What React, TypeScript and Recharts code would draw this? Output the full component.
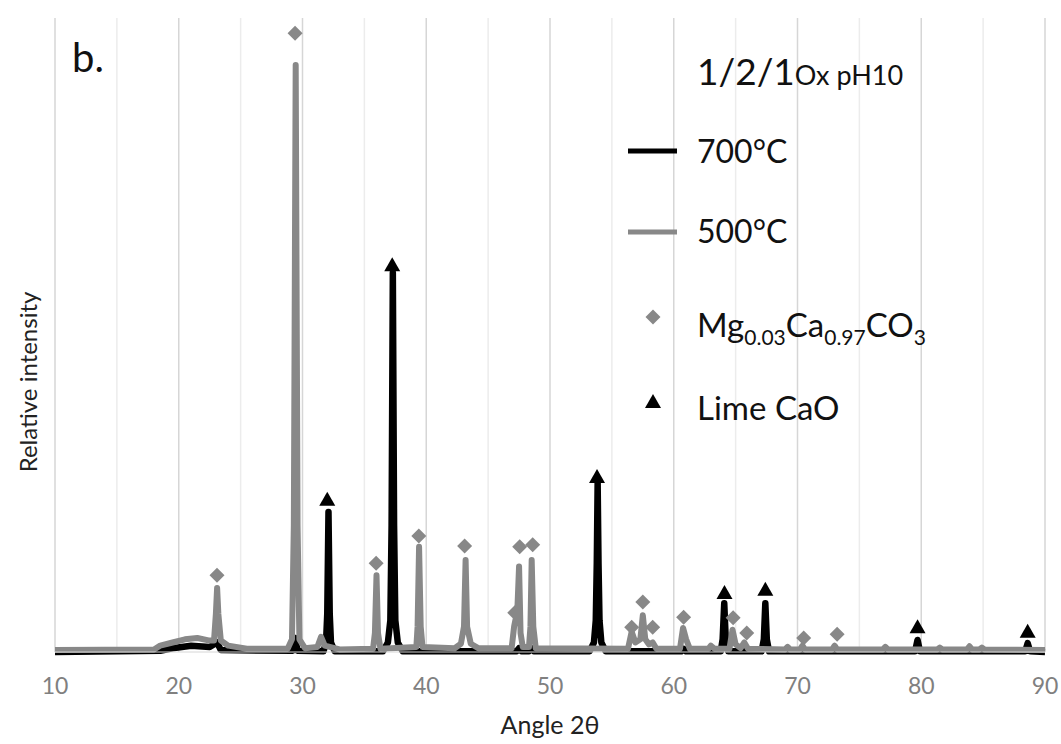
import {
  ComposedChart,
  Line,
  Scatter,
  XAxis,
  YAxis,
  CartesianGrid,
  ReferenceLine,
} from 'recharts';

const FONT = 'Lato, "Open Sans", sans-serif';
const GREY = '#888888';
const BLACK = '#000000';

// [angle 2θ, relative intensity]
const pattern500: [number, number][] = [
  [10, 0.3], [18, 0.4], [18.5, 1.0], [19.5, 1.5], [20.5, 2.0], [21.5, 2.2], [22.5, 1.8],
  [22.85, 1.8], [23.0, 6], [23.1, 10.1], [23.2, 6], [23.4, 1.8], [24, 1.0], [25.5, 0.5],
  [28.8, 0.5], [29.15, 2], [29.3, 20], [29.45, 92.6], [29.6, 20], [29.75, 2], [30.2, 0.6],
  [31.2, 0.8], [31.5, 2.4], [31.8, 1.0], [33, 0.4], [35.7, 0.5], [35.85, 3], [35.98, 12.1],
  [36.1, 3], [36.3, 0.5], [39.2, 0.8], [39.3, 4], [39.42, 16.6], [39.55, 4], [39.7, 0.8],
  [42.3, 0.6], [42.8, 1.3], [43.05, 4], [43.18, 14.5], [43.3, 4], [43.6, 1.3], [44.2, 0.6],
  [46.9, 0.6], [47.1, 4], [47.2, 5], [47.35, 6], [47.5, 13.5], [47.62, 3], [47.8, 0.8],
  [48.3, 0.8], [48.42, 4], [48.52, 14.5], [48.65, 4], [48.85, 0.6], [56.3, 0.5], [56.6, 3.2],
  [56.9, 1.5], [57.3, 2], [57.5, 5.8], [57.7, 2], [58.0, 1.2], [58.3, 1.5], [58.6, 0.5],
  [60.5, 0.5], [60.75, 3.8], [61.0, 2], [61.3, 0.5], [62.8, 0.5], [63.0, 1.0], [63.3, 0.5],
  [64.5, 0.5], [64.75, 3.5], [65.0, 1.2], [65.4, 0.6], [65.7, 1.5], [66.0, 0.5], [69.0, 0.4],
  [69.2, 0.8], [69.4, 0.4], [70.2, 0.4], [70.4, 1.0], [70.6, 0.4], [72.8, 0.4], [73.0, 1.0],
  [73.2, 0.4], [76.9, 0.4], [77.1, 0.8], [77.3, 0.4], [81.3, 0.4], [81.5, 0.7], [81.7, 0.4],
  [83.7, 0.4], [83.9, 0.9], [84.1, 0.4], [84.7, 0.4], [84.9, 0.7], [85.1, 0.4], [90, 0.3],
];

const pattern700: [number, number][] = [
  [10, 0], [18.5, 0.2], [19.5, 0.6], [21, 1.0], [22.5, 0.8], [23.1, 1.5], [23.4, 0.3],
  [29.2, 0.2], [29.4, 2.2], [29.6, 0.2], [31.7, 0.1], [31.9, 1.5], [32.0, 6], [32.1, 22.1],
  [32.2, 6], [32.3, 1.5], [32.6, 0.1], [36.5, 0.1], [36.9, 1.5], [37.1, 5], [37.2, 20],
  [37.3, 59.8], [37.4, 20], [37.5, 5], [37.7, 1.5], [38.1, 0.1], [47.3, 0.1], [47.5, 0.6],
  [47.7, 0.1], [48.3, 0.1], [48.5, 0.6], [48.7, 0.1], [53.2, 0.1], [53.55, 1.5], [53.7, 5],
  [53.78, 14], [53.85, 26.7], [53.92, 14], [54.0, 5], [54.15, 1.5], [54.5, 0.1], [60.6, 0.1],
  [60.8, 0.5], [61.0, 0.1], [63.8, 0.1], [63.95, 2], [64.08, 7.7], [64.2, 2], [64.4, 0.1],
  [67.1, 0.1], [67.28, 2], [67.4, 7.7], [67.52, 2], [67.7, 0.1], [79.5, 0.1], [79.7, 1.9],
  [79.9, 0.1], [88.4, 0.1], [88.6, 1.4], [88.8, 0.1], [90, 0],
];

// phase markers [angle, height]
const calciteMarks: [number, number][] = [
  [23.09, 12.1], [29.4, 97.6], [35.95, 14.0], [39.4, 18.3], [43.1, 16.7], [47.15, 6.2],
  [47.55, 16.6], [48.6, 16.9], [56.6, 3.9], [57.5, 7.9], [58.3, 3.9], [60.8, 5.5],
  [64.8, 5.4], [65.9, 3.0], [70.5, 2.2], [73.2, 2.8],
];

const limeMarks: [number, number][] = [
  [32.0, 24.0], [37.25, 61.0], [53.8, 27.6], [64.1, 9.3], [67.4, 9.8], [79.7, 3.9], [88.6, 3.2],
];

const majorTicks = [10, 20, 30, 40, 50, 60, 70, 80, 90];
const minorTicks = [15, 25, 35, 45, 55, 65, 75, 85];

const toPoints = (arr: [number, number][]) => arr.map(([x, y]) => ({ x, y }));

const Diamond = ({ cx, cy }: any) => (
  <polygon
    points={`${cx},${cy - 7.5} ${cx + 7.5},${cy} ${cx},${cy + 7.5} ${cx - 7.5},${cy}`}
    fill={GREY}
  />
);

const Triangle = ({ cx, cy }: any) => (
  <polygon points={`${cx},${cy - 8} ${cx + 8},${cy + 6} ${cx - 8},${cy + 6}`} fill={BLACK} />
);

function Overlay() {
  return (
    <svg
      width={1061}
      height={744}
      style={{ position: 'absolute', left: 0, top: 0, pointerEvents: 'none' }}
      fontFamily={FONT}
    >
      <text x={72} y={72} fontSize={40} fill="#111">b.</text>

      <text x={697} y={85} fill="#111">
        <tspan fontSize={37}>1/2/1</tspan>
        <tspan fontSize={27}>Ox pH10</tspan>
      </text>

      <line x1={628} x2={677} y1={151} y2={151} stroke={BLACK} strokeWidth={5} />
      <text x={697} y={163} fontSize={32} fill="#111">700°C</text>

      <line x1={628} x2={677} y1={232} y2={232} stroke={GREY} strokeWidth={5} />
      <text x={697} y={243} fontSize={32} fill="#111">500°C</text>

      <Diamond cx={653} cy={317} />
      <text x={697} y={337} fontSize={33} fill="#111">
        Mg<tspan fontSize={21} dy={8}>0.03</tspan>
        <tspan dy={-8}>Ca</tspan>
        <tspan fontSize={21} dy={8}>0.97</tspan>
        <tspan dy={-8}>CO</tspan>
        <tspan fontSize={21} dy={8}>3</tspan>
      </text>

      <Triangle cx={653} cy={402} />
      <text x={697} y={420} fontSize={33} fill="#111">Lime CaO</text>

      <text
        x={37}
        y={382}
        fontSize={24}
        fill="#222"
        textAnchor="middle"
        transform="rotate(-90, 37, 382)"
      >
        Relative intensity
      </text>
      <text x={550} y={734} fontSize={25} fill="#222" textAnchor="middle">
        Angle 2θ
      </text>
    </svg>
  );
}

export default function App() {
  return (
    <div style={{ position: 'absolute', left: 0, top: 0, width: 1061, height: 744, background: '#fff' }}>
      <ComposedChart width={1061} height={744} margin={{ top: 18, right: 16, left: 55, bottom: 32 }}>
        <CartesianGrid horizontal={false} stroke="#d6d6d6" strokeWidth={1.5} />
        {minorTicks.map((t) => (
          <ReferenceLine key={t} x={t} stroke="#ececec" strokeWidth={1.5} />
        ))}
        <XAxis
          dataKey="x"
          type="number"
          domain={[10, 90]}
          ticks={majorTicks}
          height={60}
          tickLine={false}
          tickMargin={20}
          axisLine={{ stroke: '#d6d6d6' }}
          tick={{ fontSize: 23, fill: '#808080', fontFamily: FONT }}
        />
        <YAxis hide type="number" domain={[0, 100]} />
        <Line
          data={toPoints(pattern700)}
          dataKey="y"
          type="linear"
          stroke={BLACK}
          strokeWidth={6.5}
          strokeLinejoin="round"
          dot={false}
          isAnimationActive={false}
        />
        <Line
          data={toPoints(pattern500)}
          dataKey="y"
          type="linear"
          stroke={GREY}
          strokeWidth={6}
          strokeLinejoin="round"
          dot={false}
          isAnimationActive={false}
        />
        <Scatter data={toPoints(calciteMarks)} dataKey="y" shape={Diamond} isAnimationActive={false} />
        <Scatter data={toPoints(limeMarks)} dataKey="y" shape={Triangle} isAnimationActive={false} />
      </ComposedChart>
      <Overlay />
    </div>
  );
}
